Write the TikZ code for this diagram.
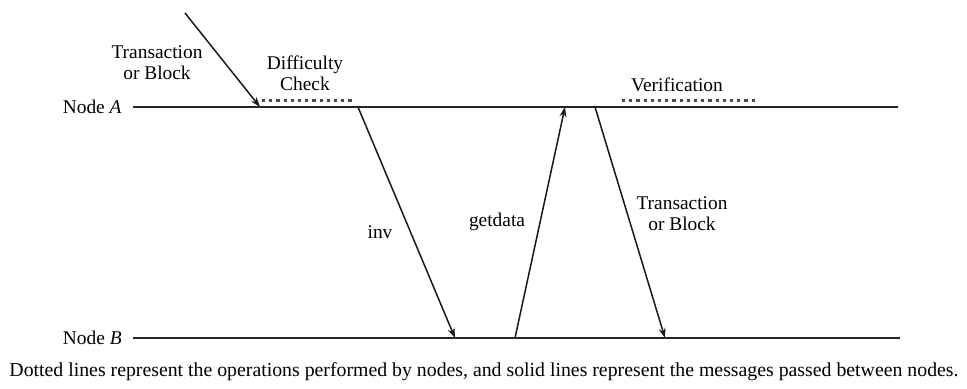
\documentclass[tikz,border=0pt]{standalone}
\usepackage{fontspec}
\setmainfont{Liberation Serif}
\usetikzlibrary{arrows.meta}

\begin{document}
\begin{tikzpicture}[
  x=0.5pt, y=-0.5pt,
  lbl/.style={
    font=\fontsize{9.7}{10.5}\selectfont, align=center, inner sep=0pt
  },
  tline/.style={
    line width=1.1pt, color=black!85
  },
  msg/.style={
    -{Stealth[length=5pt, width=3.5pt]}, line width=0.75pt, color=black!90
  },
  oper/.style={
    line width=1.5pt, color=black!70, dash pattern=on 1.6pt off 2pt
  }
]
\useasboundingbox (0,0) rectangle (967,388);

% Node time lines
\node[lbl, anchor=east] (nodeA) at (122,107) {Node \textit{A}};
\node[lbl, anchor=east] (nodeB) at (122,338) {Node \textit{B}};
\coordinate (aEnd) at (898,107);
\coordinate (bEnd) at (900,338);
\draw[tline] ([xshift=5.5pt]nodeA.east) -- (aEnd);
\draw[tline] ([xshift=5.5pt]nodeB.east) -- (bEnd);

% Message points
\coordinate (src) at (185,13);
\coordinate (a1) at (260,107);
\coordinate (a2) at (358,107);
\coordinate (a3) at (565,107);
\coordinate (a4) at (595,107);
\coordinate (b1) at (455,338);
\coordinate (b2) at (515,338);
\coordinate (b3) at (665,338);

% Messages
\draw[msg] (src) -- (a1);
\draw[msg] (a2) -- (b1);
\draw[msg] (b2) -- (a3);
\draw[msg] (a4) -- (b3);

% Operations
\coordinate (chkL) at (262,100);
\coordinate (chkR) at (355,100);
\coordinate (verL) at (622,100);
\coordinate (verR) at (755,100);
\draw[oper] (chkL) -- (chkR);
\draw[oper] (verL) -- (verR);

% Labels
\node[lbl] (txin) at (157,63) {Transaction\\or Block};
\node[lbl] (check) at (305,73) {Difficulty\\Check};
\node[lbl] (verify) at (677,85) {Verification};
\node[lbl] (inv) at (380,232) {inv};
\node[lbl] (getdata) at (497,222) {getdata};
\node[lbl] (txout) at (682,214) {Transaction\\or Block};

% Caption
\node[lbl, font=\fontsize{9.9}{11}\selectfont] (caption) at (484,372) {Dotted lines represent the operations performed by nodes, and solid lines represent the messages passed between nodes.};

\end{tikzpicture}
\end{document}
